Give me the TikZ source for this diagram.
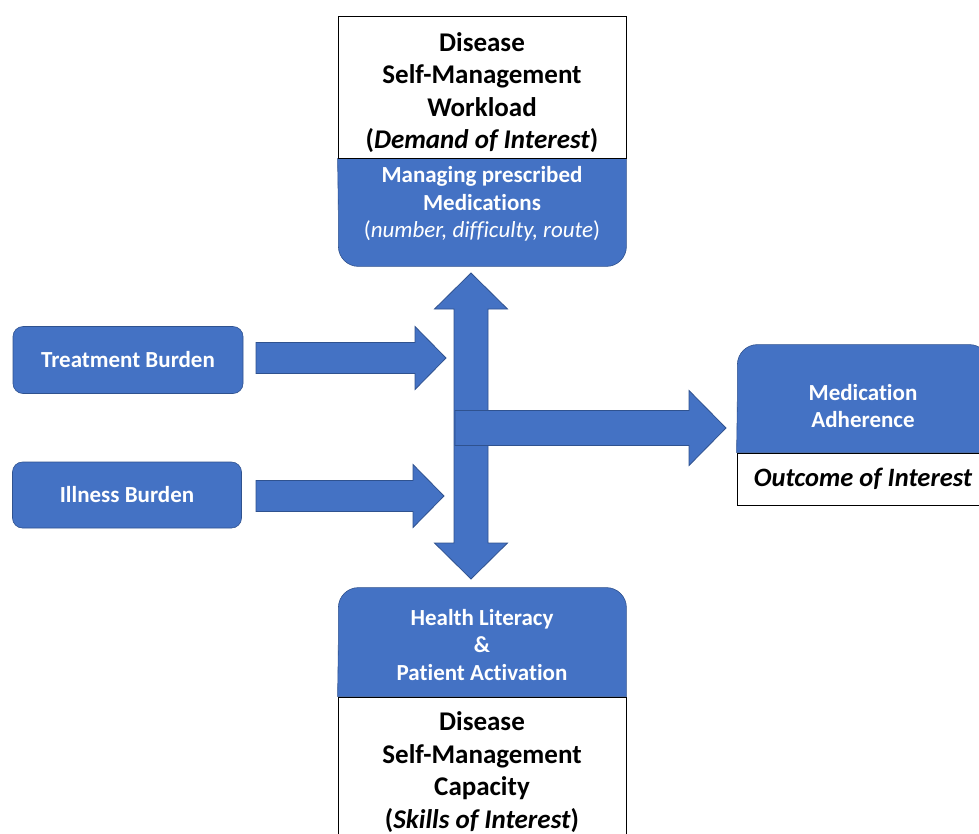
\documentclass[tikz,border=0pt]{standalone}
\usepackage{fontspec}
\setmainfont{Carlito}[Ligatures={TeX,NoCommon}]
\usetikzlibrary{calc,backgrounds}
\definecolor{boxblue}{HTML}{4472C4}
\definecolor{edgeblue}{HTML}{2F528F}
\tikzset{
  whitebox/.style={draw=black, line width=0.8pt, fill=white, inner sep=0pt, minimum width=288pt, align=center, font=\bfseries\fontsize{27}{32.5}\selectfont},
  bluetext/.style={text=white, inner sep=0pt, align=center, font=\bfseries\fontsize{23}{27.5}\selectfont},
  bluefill/.style={fill=boxblue, draw=edgeblue, line width=0.6pt},
  burden/.style={bluefill, bluetext, rounded corners=10pt, minimum width=230pt, minimum height=67pt},
  blockarrow/.style={fill=boxblue, draw=edgeblue, line width=0.8pt, line join=miter}
}
\newcommand{\rightblock}[5]{%
  \draw[blockarrow] ($(#1)+(0,-#3)$) -- ($(#2)+(-#5,-#3)$) -- ($(#2)+(-#5,-#4)$) -- (#2)
    -- ($(#2)+(-#5,#4)$) -- ($(#2)+(-#5,#3)$) -- ($(#1)+(0,#3)$) -- cycle;}

\begin{document}
\begin{tikzpicture}[x=1pt, y=-1pt]
\useasboundingbox (0,0) rectangle (979,833);
\node[whitebox, minimum height=142pt] (top) at (482,87) {\rule{0pt}{30pt}Disease\\Self-Management\\Workload\\(\textit{Demand of Interest})};
\node[bluetext] (med) at (482,204) {Managing prescribed\\Medications\\\mdseries(\textit{number, difficulty, route})};
\node[burden] (treat) at (128,360) {Treatment Burden};
\node[burden, minimum width=229pt, minimum height=66pt] (ill) at (127,495) {Illness Burden};
\node[bluetext] (adh) at (863,406) {Medication\\Adherence};
\node[whitebox, minimum width=252pt, minimum height=52pt, font=\bfseries\itshape\fontsize{26.5}{31}\selectfont] (out) at (863,479) {Outcome of Interest};
\node[bluetext] (lit) at (482,645) {Health Literacy\\\&\\Patient Activation};
\node[whitebox, minimum height=150pt] (cap) at (482,772) {Disease\\Self-Management\\Capacity\\(\textit{Skills of Interest})};

\begin{pgfonlayer}{background}
\draw[bluefill] (top.south) -- (top.south east) -- ++(0,54) [rounded corners=20pt] -- ++(0,54) -- ++(-288,0) -- ++(0,-54) [sharp corners] -- (top.south west) -- cycle;
\draw[bluefill] (out.north) -- (out.north east) -- ++(0,-54) [rounded corners=20pt] -- ++(0,-54) -- ++(-252,0) -- ++(0,54) [sharp corners] -- (out.north west) -- cycle;
\draw[bluefill] (cap.north) -- (cap.north east) -- ++(0,-54) [rounded corners=20pt] -- ++(0,-55) -- ++(-288,0) -- ++(0,55) [sharp corners] -- (cap.north west) -- cycle;
\end{pgfonlayer}

\coordinate (vtop) at (471,273);
\coordinate (vbot) at (471,579);
\coordinate (t1) at (256,358);
\coordinate (t2) at (446,358);
\coordinate (i1) at (256,496);
\coordinate (i2) at (444,496);
\coordinate (a1) at (455,428);
\coordinate (a2) at (726,428);

\draw[blockarrow] (vtop) -- ($(vtop)+(36.5,36)$) -- ($(vtop)+(17,36)$) -- ($(vbot)+(17,-36)$) -- ($(vbot)+(36.5,-36)$) -- (vbot)
  -- ($(vbot)+(-36.5,-36)$) -- ($(vbot)+(-17,-36)$) -- ($(vtop)+(-17,36)$) -- ($(vtop)+(-36.5,36)$) -- cycle;
\rightblock{t1}{t2}{15.5}{31.5}{31}
\rightblock{i1}{i2}{15.5}{31.5}{31}
\rightblock{a1}{a2}{17.5}{37.5}{37}
\end{tikzpicture}
\end{document}
